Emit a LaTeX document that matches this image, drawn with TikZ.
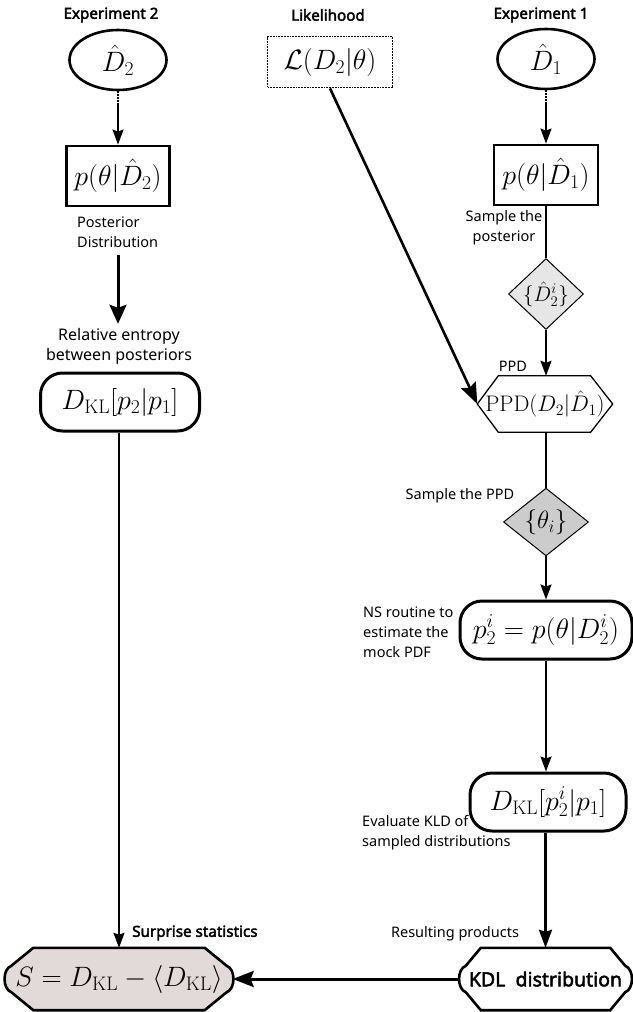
\RequirePackage{fix-cm}
\documentclass[tikz,border=0pt]{standalone}
\usepackage{fontspec}
\newfontfamily\lbl{Noto Sans}
\newfontfamily\lblb{Noto Sans}[FakeBold=2.5]
\usetikzlibrary{shapes.geometric,arrows.meta,calc,backgrounds}
\definecolor{lightdia}{HTML}{E6E6E6}
\definecolor{darkdia}{HTML}{CCCCCC}
\definecolor{sfill}{HTML}{E2D9D9}
\newcommand\capsulepath[2]{($(#1.north west)+(#2,0)$) -- ($(#1.north east)+(-#2,0)$) -- ($(#1.north east)+(-6,18)$) .. controls ($(#1.east)+(3,-10)$) and ($(#1.east)+(3,10)$) .. ($(#1.south east)+(-6,-18)$) -- ($(#1.south east)+(-#2,0)$) -- ($(#1.south west)+(#2,0)$) -- ($(#1.south west)+(6,-18)$) .. controls ($(#1.west)+(-3,10)$) and ($(#1.west)+(-3,-10)$) .. ($(#1.north west)+(6,18)$) -- cycle}
\begin{document}
\begin{tikzpicture}[x=1pt,y=-1pt,
 mathf/.style={font=\fontsize{28}{30}\selectfont, inner sep=0pt},
 lab/.style={font=\lbl\fontsize{14.5}{20}\selectfont, inner sep=0pt},
 blab/.style={font=\lblb\fontsize{15.2}{18}\selectfont, inner sep=0pt},
 oval/.style={mathf, ellipse, draw, line width=2.6pt, minimum width=97pt, minimum height=60pt},
 sqbox/.style={mathf, rectangle, draw, line width=2.8pt, minimum width=103pt, minimum height=60pt},
 rbox/.style={mathf, rectangle, draw, line width=3pt, rounded corners=22pt, minimum height=58pt},
 dia/.style={diamond, draw, line width=1pt, inner sep=0pt},
 conn/.style={line width=2pt},
 arr/.style={conn, -{Stealth[length=15pt,width=11pt,inset=2pt]}},
 bigarr/.style={line width=3pt, -{Stealth[length=19pt,width=17pt,inset=3pt]}},
]
\useasboundingbox (0,0) rectangle (632,1012);

% titles
\node[blab] (t2) at (111,15) {Experiment 2};
\node[blab] (tl) at (328,15) {Likelihood};
\node[blab] (t1) at (541,15) {Experiment 1};

% left column
\node[oval] (e2) at (118,60) {$\hat{D}_2$};
\node[sqbox] (p2) at (118,176) {$p(\theta|\hat{D}_2)$};
\node[lab, align=left, anchor=west] (post) at (77,232) {Posterior\\Distribution};
\node[lab, align=center, font=\lbl\fontsize{16}{20}\selectfont] (rel) at (119,346) {Relative entropy\\between posteriors};
\node[rbox, minimum width=159pt] (dk) at (120,402) {$D_{\mathrm{KL}}[p_2|p_1]$};

% likelihood
\node[mathf, draw, densely dotted, line width=1.8pt, minimum width=125pt, minimum height=51pt] (lik) at (330,62) {$\mathcal{L}(D_2|\theta)$};

% right column
\node[oval] (e1) at (546,59) {$\hat{D}_1$};
\node[sqbox, minimum width=104pt] (p1) at (546,175) {$p(\theta|\hat{D}_1)$};
\node[lab, align=center] (samp) at (504,228) {Sample the\\posterior};
\node[dia, fill=lightdia, minimum width=75pt, minimum height=65pt, font=\fontsize{21}{24}\selectfont] (d2i) at (546,294) {$\{\hat{D}^i_2\}$};
\node[lab] (ppdl) at (513,366) {PPD};
\node[font=\fontsize{22.5}{24}\selectfont, inner sep=0pt, minimum width=135pt, minimum height=56pt] (ppd) at (545,404) {$\mathrm{PPD}(D_2|\hat{D}_1)$};
\node[lab] (sppd) at (460,496) {Sample the PPD};
\node[dia, fill=darkdia, minimum width=85pt, minimum height=62pt, font=\fontsize{25}{28}\selectfont] (thi) at (546,522) {$\{\theta_i\}$};
\node[rbox, minimum width=172pt] (p2i) at (546,630) {$p^i_2=p(\theta|D^i_2)$};
\node[lab, align=left, anchor=west] (ns) at (363,632) {NS routine to\\estimate the\\mock PDF};
\node[rbox, minimum width=156pt] (dki) at (548,802) {$D_{\mathrm{KL}}[p^i_2|p_1]$};
\node[lab, align=left, anchor=west] (ev) at (362,833) {Evaluate KLD of\\sampled distributions};
\node[lab] (res) at (455,934) {Resulting products};
\node[font=\lblb\fontsize{19.5}{22}\selectfont, inner sep=0pt, minimum width=171pt, minimum height=62pt] (kdl) at (545.5,979) {KDL\ \ distribution};

% bottom left
\node[blab, anchor=west] (sur) at (132,933) {Surprise statistics};
\node[mathf, minimum width=227pt, minimum height=62pt] (s) at (119,979) {$S=D_{\mathrm{KL}}-\langle D_{\mathrm{KL}}\rangle$};

% custom shapes behind
\begin{scope}[on background layer]
\draw[line width=1.3pt, fill=white] (ppd.west) -- ($(ppd.north west)+(21,0)$) -- ($(ppd.north east)+(-22,0)$) -- (ppd.east) -- ($(ppd.south east)+(-22,0)$) -- ($(ppd.south west)+(21,0)$) -- cycle;
\draw[line width=2.6pt, fill=sfill] \capsulepath{s}{28};
\draw[line width=2.6pt, fill=white] \capsulepath{kdl}{21};
\end{scope}

% connectors
\draw[densely dotted, line width=2pt] (e2.south) -- ++(0,14) coordinate (e2d);
\draw[arr] (e2d) -- (p2.north);
\draw[densely dotted, line width=2pt] (e1.south) -- ++(0,14) coordinate (e1d);
\draw[arr] (e1d) -- (p1.north);
\draw[bigarr] ($(post.south -| p2.south)+(0,7)$) -- ($(rel.north -| p2.south)+(0,-4)$);
\draw[arr] (dk.south -| s.north) -- (s.north);
\draw[conn] (p1.south) -- (d2i.north);
\draw[arr] (d2i.south) -- (ppd.north -| d2i.south);
\draw[line width=2.6pt, -{Stealth[length=21pt,width=16pt,inset=3pt]}] (lik.south) -- (ppd.west);
\draw[conn] (ppd.south -| thi.north) -- (thi.north);
\draw[arr] (thi.south) -- (p2i.north);
\draw[arr] (p2i.south) -- (p2i.south |- dki.north);
\draw[line width=2.4pt, -{Stealth[length=18pt,width=13pt,inset=2pt]}] (dki.south -| kdl.north) -- (kdl.north);
\draw[line width=3pt, -{Stealth[length=21pt,width=16pt,inset=3pt]}] (kdl.west) -- (s.east);
\end{tikzpicture}
\end{document}
